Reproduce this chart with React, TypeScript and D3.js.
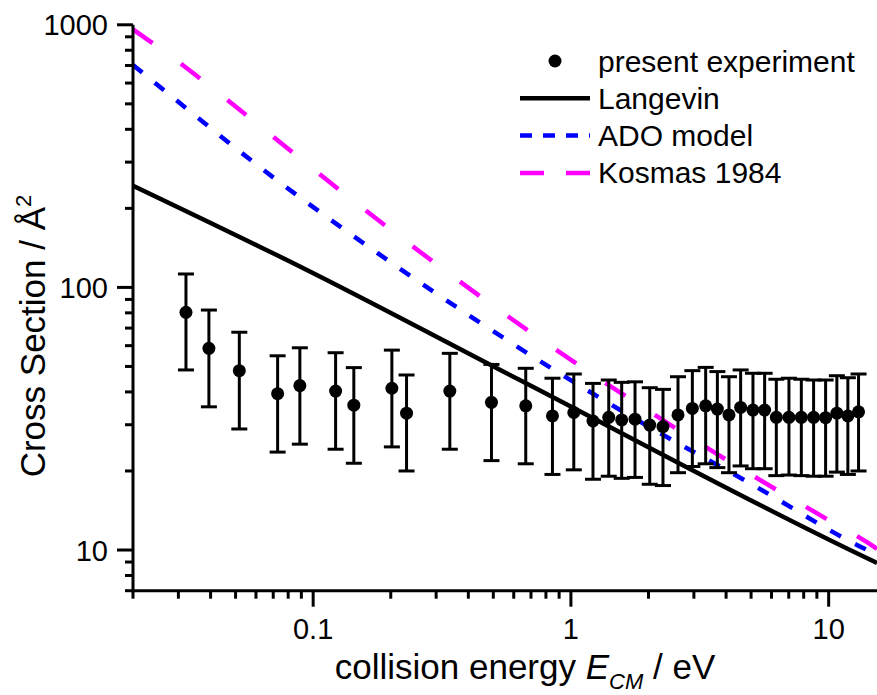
import * as d3 from "d3";
import React from "react";

// measured cross sections (present experiment)
const energy = [0.0321, 0.0394, 0.0517, 0.0728, 0.0888, 0.1222, 0.1438, 0.202, 0.2303, 0.339, 0.4918, 0.668, 0.848, 1.026, 1.218, 1.402, 1.574, 1.773, 2.022, 2.276, 2.603, 2.959, 3.333, 3.7, 4.104, 4.555, 5.085, 5.644, 6.265, 7.013, 7.833, 8.74, 9.73, 10.76, 11.87, 13.06];
const cross = [80.4, 58.6, 48.2, 39.4, 42.3, 40.3, 35.6, 41.3, 33.2, 40.3, 36.5, 35.4, 32.4, 33.4, 31.0, 32.0, 31.3, 31.5, 29.9, 29.5, 32.7, 34.6, 35.4, 34.4, 32.7, 34.9, 34.1, 34.1, 32.0, 32.0, 32.0, 32.0, 31.9, 33.2, 32.4, 33.6];
const upper = [112.5, 82.0, 67.5, 54.9, 58.9, 56.4, 49.5, 57.7, 46.4, 56.1, 50.9, 49.2, 45.1, 46.8, 43.1, 44.4, 43.5, 43.7, 41.5, 40.9, 45.7, 48.2, 49.6, 47.8, 45.7, 48.5, 47.1, 47.1, 44.7, 45.1, 44.7, 44.4, 44.4, 46.1, 45.3, 46.8];
const lower = [48.5, 35.1, 28.9, 23.6, 25.3, 24.2, 21.4, 24.7, 20.0, 24.2, 21.9, 21.3, 19.4, 20.2, 18.6, 19.1, 18.75, 18.9, 17.8, 17.6, 19.7, 20.8, 21.3, 20.6, 19.7, 20.9, 20.4, 20.4, 19.2, 19.3, 19.2, 19.1, 19.1, 19.8, 19.4, 20.0];

// model curves
const langevinE = [0.02, 0.0912, 0.633, 15.07, 15.4];
const langevinS = [244, 118.6, 44.4, 9.02, 8.93];
const adoE = [0.02, 0.0327, 0.0571, 0.178, 0.45, 1.717, 5.24, 13.27, 15.4];
const adoS = [703, 475, 306, 135, 72.8, 32.2, 17.4, 10.3, 9.6];
const kosmasE = [0.02, 0.0297, 0.045, 0.155, 0.809, 1.857, 4.22, 9.73, 15.07, 15.4];
const kosmasS = [960, 728, 530, 201, 61.0, 35.5, 21.4, 13.2, 10.25, 10.1];

const xMajor = [0.1, 1, 10];
const xLabels = ["0.1", "1", "10"];
const yMajor = [10, 100, 1000];
const yLabels = ["10", "100", "1000"];

const legendItems = ["present experiment", "Langevin", "ADO model", "Kosmas 1984"];

const W = 877;
const H = 695;
const font = "'Liberation Sans', Arial, sans-serif";

export default function App() {
  const x = d3.scaleLog().domain([0.02, 15.4]).range([133, 877]);
  const y = d3.scaleLog().domain([7, 1000]).range([590.7, 24.8]);

  const line = d3
    .line<[number, number]>()
    .x((d) => x(d[0]))
    .y((d) => y(d[1]))
    .curve(d3.curveMonotoneX);

  const zip = (a: number[], b: number[]) => a.map((v, i) => [v, b[i]] as [number, number]);

  const xMinor = x.ticks().filter((t) => !xMajor.some((m) => Math.abs(m - t) < 1e-9));
  const yMinor = y.ticks().filter((t) => !yMajor.some((m) => Math.abs(m - t) < 1e-9));

  const [x0, x1] = x.range();
  const [y0, y1] = y.range();

  return (
    <svg width={W} height={H} style={{ position: "absolute", left: 0, top: 0, background: "#fff" }} fontFamily={font}>
      <defs>
        <clipPath id="plot">
          <rect x={x0} y={y1} width={x1 - x0} height={y0 - y1} />
        </clipPath>
      </defs>

      <g clipPath="url(#plot)" fill="none" strokeWidth={4.5}>
        <path d={line(zip(langevinE, langevinS)) || ""} stroke="#000" />
        <path d={line(zip(adoE, adoS)) || ""} stroke="#0000ff" strokeDasharray="12,16" />
        <path d={line(zip(kosmasE, kosmasS)) || ""} stroke="#ff00ff" strokeDasharray="24,35" />
      </g>

      <g stroke="#000" strokeWidth={3}>
        {energy.map((e, i) => (
          <g key={i}>
            <line x1={x(e)} x2={x(e)} y1={y(upper[i])} y2={y(lower[i])} />
            <line x1={x(e) - 8} x2={x(e) + 8} y1={y(upper[i])} y2={y(upper[i])} />
            <line x1={x(e) - 8} x2={x(e) + 8} y1={y(lower[i])} y2={y(lower[i])} />
          </g>
        ))}
      </g>
      <g fill="#000">
        {energy.map((e, i) => (
          <circle key={i} cx={x(e)} cy={y(cross[i])} r={6.5} />
        ))}
      </g>

      {/* axes */}
      <g stroke="#000">
        <line x1={x0} x2={x0} y1={y1} y2={y0 + 1.5} strokeWidth={3} />
        <line x1={x0 - 1.5} x2={x1} y1={y0} y2={y0} strokeWidth={3} />
        {xMajor.map((t) => (
          <line key={t} x1={x(t)} x2={x(t)} y1={y0} y2={y0 + 16} strokeWidth={3} />
        ))}
        {xMinor.map((t) => (
          <line key={t} x1={x(t)} x2={x(t)} y1={y0} y2={y0 + 8} strokeWidth={3} />
        ))}
        {yMajor.map((t) => (
          <line key={t} x1={x0} x2={x0 - 16} y1={y(t)} y2={y(t)} strokeWidth={3} />
        ))}
        {yMinor.map((t) => (
          <line key={t} x1={x0} x2={x0 - 8} y1={y(t)} y2={y(t)} strokeWidth={3} />
        ))}
      </g>

      <g fontSize={29} fill="#000">
        {xMajor.map((t, i) => (
          <text key={t} x={x(t)} y={639} textAnchor="middle">
            {xLabels[i]}
          </text>
        ))}
        {yMajor.map((t, i) => (
          <text key={t} x={108} y={y(t) + 10.5} textAnchor="end">
            {yLabels[i]}
          </text>
        ))}
      </g>

      <text x={525} y={679} textAnchor="middle" fontSize={35}>
        collision energy <tspan fontStyle="italic">E</tspan>
        <tspan fontStyle="italic" fontSize={22} dy={10}>
          CM
        </tspan>
        <tspan dy={-10}> / eV</tspan>
      </text>

      <text transform="translate(45,336) rotate(-90)" textAnchor="middle" fontSize={35}>
        Cross Section / Å
        <tspan fontSize={22} dy={-14}>
          2
        </tspan>
      </text>

      {/* legend */}
      <g fontSize={30}>
        {legendItems.map((name, i) => {
          const yb = 71.5 + i * 37.3;
          const cy = yb - 10.5;
          return (
            <g key={name}>
              {i === 0 && <circle cx={555} cy={cy} r={6.5} fill="#000" />}
              {i === 1 && <line x1={520} x2={590} y1={cy} y2={cy} stroke="#000" strokeWidth={4.5} />}
              {i === 2 && (
                <line x1={520} x2={590} y1={cy} y2={cy} stroke="#0000ff" strokeWidth={4.5} strokeDasharray="12,11" />
              )}
              {i === 3 && (
                <line x1={520} x2={590} y1={cy} y2={cy} stroke="#ff00ff" strokeWidth={4.5} strokeDasharray="24,22" />
              )}
              <text x={598} y={yb}>
                {name}
              </text>
            </g>
          );
        })}
      </g>
    </svg>
  );
}
